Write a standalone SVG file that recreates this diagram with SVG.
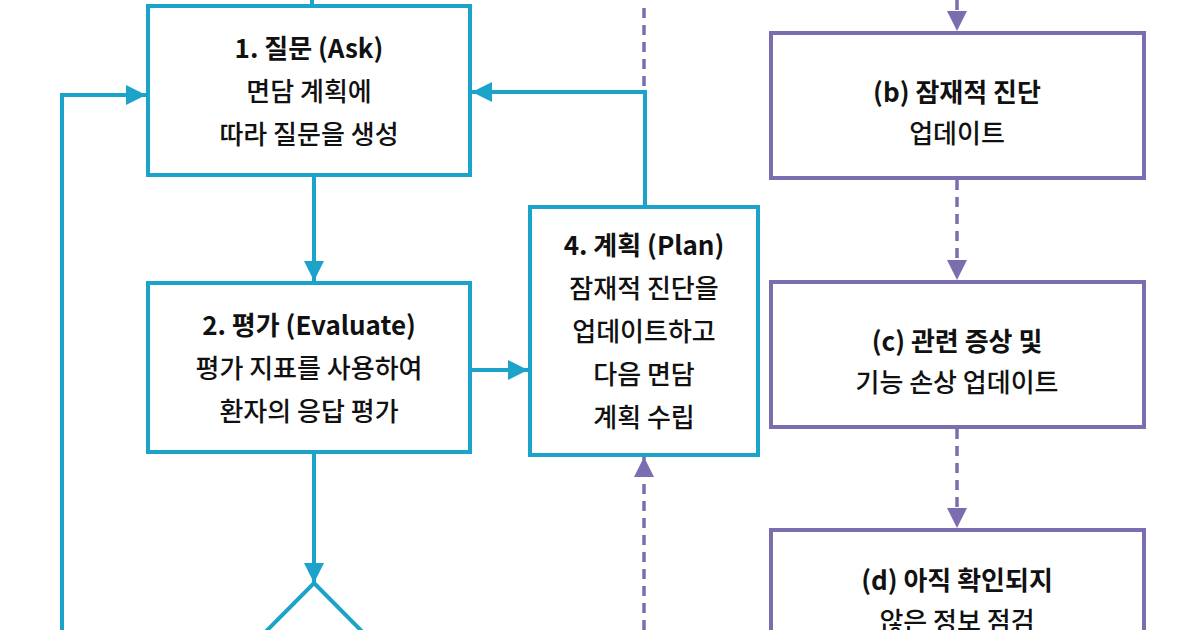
<svg xmlns="http://www.w3.org/2000/svg" width="1200" height="630" viewBox="0 0 1200 630">
<defs>
<marker id="at" viewBox="0 0 10 10" refX="10" refY="5" markerWidth="20" markerHeight="20" markerUnits="userSpaceOnUse" orient="auto"><path d="M0,0 L10,5 L0,10 z" fill="#1ba3c9"/></marker>
<marker id="ap" viewBox="0 0 10 10" refX="10" refY="5" markerWidth="20" markerHeight="20" markerUnits="userSpaceOnUse" orient="auto"><path d="M0,0 L10,5 L0,10 z" fill="#7b6db0"/></marker>
<style>
.t{fill:#fff;stroke:#1ba3c9;stroke-width:4}
.p{fill:#fff;stroke:#7b6db0;stroke-width:4}
.ct{fill:none;stroke:#1ba3c9;stroke-width:4}
.cp{fill:none;stroke:#7b6db0;stroke-width:3.5;stroke-dasharray:10 7}
text{font-family:"Noto Sans CJK KR","Noto Sans",sans-serif;font-size:26px;fill:#111;text-anchor:middle;font-weight:500}
.b{font-weight:700}
</style>
</defs>
<rect width="1200" height="630" fill="#fff"/>
<g id="connectors">
<line class="ct" x1="312" y1="0" x2="312" y2="5"/>
<path class="ct" d="M62,630 V95 H146" marker-end="url(#at)"/>
<line class="ct" x1="314" y1="175" x2="314" y2="281" marker-end="url(#at)"/>
<line class="ct" x1="470" y1="370" x2="528" y2="370" marker-end="url(#at)"/>
<path class="ct" d="M645,207 V92 H472" marker-end="url(#at)"/>
<line class="ct" x1="314" y1="452" x2="314" y2="583" marker-end="url(#at)"/>
<line class="cp" x1="644" y1="8" x2="644" y2="88"/>
<line class="cp" x1="644" y1="630" x2="644" y2="457" marker-end="url(#ap)"/>
<line class="cp" x1="957" y1="0" x2="957" y2="31" marker-end="url(#ap)"/>
<line class="cp" x1="957" y1="180" x2="957" y2="280" marker-end="url(#ap)"/>
<line class="cp" x1="957" y1="429" x2="957" y2="528" marker-end="url(#ap)"/>
</g>
<g id="n1"><rect class="t" x="148" y="6" width="322" height="169"/>
<text class="b" x="309" y="58">1. 질문 (Ask)</text><text x="309" y="101">면담 계획에</text><text x="309" y="144">따라 질문을 생성</text></g>
<g id="n2"><rect class="t" x="148" y="283" width="322" height="169"/>
<text class="b" x="309" y="335">2. 평가 (Evaluate)</text><text x="309" y="378">평가 지표를 사용하여</text><text x="309" y="421">환자의 응답 평가</text></g>
<g id="n3"><path class="t" d="M314,583 L430,700 L314,817 L198,700 z"/></g>
<g id="n4"><rect class="t" x="530" y="207" width="228" height="248"/>
<text class="b" x="644" y="255">4. 계획 (Plan)</text><text x="644" y="298">잠재적 진단을</text><text x="644" y="341">업데이트하고</text><text x="644" y="384">다음 면담</text><text x="644" y="427">계획 수립</text></g>
<g id="nb"><rect class="p" x="771" y="33" width="373" height="145"/>
<text class="b" x="957" y="102">(b) 잠재적 진단</text><text x="957" y="143">업데이트</text></g>
<g id="nc"><rect class="p" x="771" y="282" width="373" height="145"/>
<text class="b" x="957" y="351">(c) 관련 증상 및</text><text x="957" y="392">기능 손상 업데이트</text></g>
<g id="nd"><rect class="p" x="771" y="530" width="373" height="145"/>
<text class="b" x="957" y="590">(d) 아직 확인되지</text><text x="957" y="631">않은 정보 점검</text></g>
</svg>
